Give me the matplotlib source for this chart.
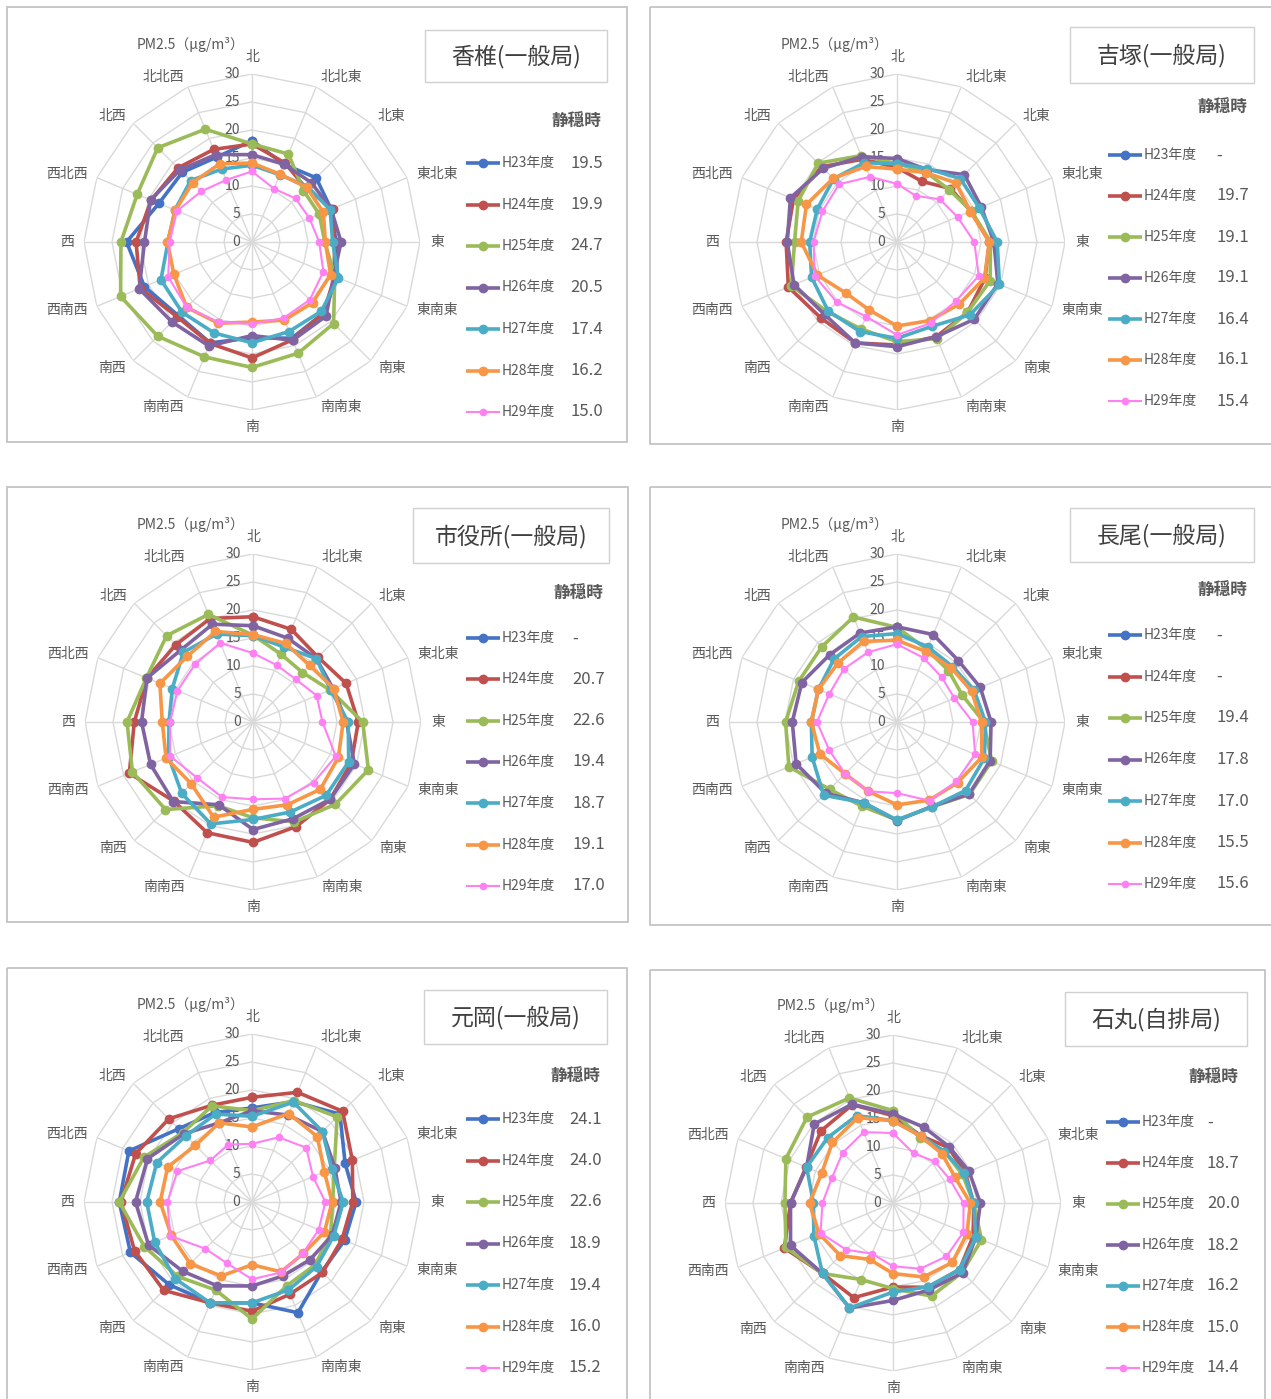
import matplotlib
matplotlib.use("Agg")
import matplotlib.pyplot as plt
import numpy as np
from matplotlib.patches import Rectangle
from matplotlib.transforms import offset_copy

plt.rcParams['font.family'] = ['Noto Sans CJK JP', 'DejaVu Sans']

# 16 wind directions, clockwise from north
directions = ['北', '北北東', '北東', '東北東', '東', '東南東', '南東', '南南東',
              '南', '南南西', '南西', '西南西', '西', '西北西', '北西', '北北西']
years = ['H23年度', 'H24年度', 'H25年度', 'H26年度', 'H27年度', 'H28年度', 'H29年度']
colors = ['#4472C4', '#C0504D', '#9BBB59', '#8064A2', '#4BACC6', '#F79646', '#FF80F2']
ticks = [0, 5, 10, 15, 20, 25, 30]

# PM2.5 by wind direction, one list per year (None = no data)
kashii = [
    [18.1, 15.0, 16.2, 15.3, 15.0, 16.5, 18.0, 18.6, 17.1, 19.5, 18.6, 20.8, 22.4, 18.0, 17.6, 16.4],
    [17.5, 15.3, 13.6, 15.6, 14.7, 16.0, 18.0, 18.9, 20.7, 19.6, 18.9, 21.6, 20.7, 19.5, 18.7, 17.9],
    [17.5, 17.0, 13.0, 13.0, 13.0, 16.0, 20.6, 21.5, 22.4, 22.2, 23.8, 25.4, 23.4, 22.2, 23.8, 21.8],
    [15.6, 15.0, 15.0, 15.3, 15.9, 15.8, 18.7, 19.0, 16.7, 20.1, 20.2, 21.8, 19.2, 19.6, 18.2, 16.9],
    [13.7, 13.0, 14.0, 15.1, 14.4, 16.7, 17.5, 17.3, 18.0, 17.6, 17.7, 17.6, 15.0, 14.9, 15.5, 14.1],
    [14.1, 13.1, 13.8, 13.8, 13.1, 15.2, 15.3, 15.1, 14.3, 15.7, 16.5, 15.1, 15.1, 14.8, 15.0, 15.1],
    [12.6, 10.3, 11.0, 11.1, 12.0, 13.8, 14.6, 14.7, 14.6, 15.5, 16.5, 16.2, 14.7, 14.5, 12.8, 12.0],
]
yoshizuka = [
    None,
    [13.3, 11.7, 13.5, 14.3, 16.5, 17.0, 17.8, 18.3, 18.4, 19.5, 19.2, 21.0, 19.8, 20.0, 19.0, 16.0],
    [14.0, 13.5, 13.2, 14.4, 16.7, 18.0, 17.8, 18.7, 17.8, 16.8, 17.6, 20.4, 18.3, 19.1, 19.9, 16.7],
    [14.9, 14.0, 17.0, 16.3, 17.3, 19.5, 19.5, 18.3, 18.7, 19.5, 18.3, 19.9, 19.6, 20.6, 18.6, 16.5],
    [14.0, 14.2, 16.0, 15.9, 17.9, 19.8, 18.4, 16.3, 17.2, 17.3, 17.4, 16.5, 15.6, 15.4, 16.0, 15.3],
    [13.0, 13.4, 14.9, 14.2, 16.5, 16.9, 15.7, 15.2, 15.0, 13.1, 12.9, 15.4, 17.1, 17.5, 16.1, 14.6],
    [10.4, 8.9, 10.8, 11.7, 13.8, 15.8, 14.9, 15.7, 16.6, 14.4, 15.2, 15.9, 14.9, 14.4, 14.6, 12.6],
]
shiyakusho = [
    None,
    [18.8, 17.9, 16.4, 18.0, 18.8, 19.0, 19.5, 20.2, 21.5, 21.4, 20.0, 23.9, 21.2, 20.5, 19.5, 20.0],
    [15.5, 13.1, 12.5, 14.9, 19.6, 22.3, 20.8, 19.3, 17.1, 16.2, 22.1, 23.3, 22.5, 20.6, 21.8, 20.8],
    [17.2, 16.2, 16.0, 15.5, 16.7, 19.6, 19.5, 18.7, 19.2, 16.0, 20.1, 19.8, 19.9, 20.5, 18.2, 18.9],
    [15.4, 14.5, 16.0, 15.0, 17.0, 18.5, 18.5, 17.4, 17.4, 19.7, 18.0, 16.3, 15.0, 15.6, 17.6, 17.0],
    [15.6, 15.2, 14.3, 15.6, 16.1, 16.5, 17.0, 16.0, 15.6, 18.4, 15.6, 16.8, 16.2, 18.0, 16.6, 17.5],
    [12.3, 11.0, 10.8, 12.3, 12.4, 16.0, 15.3, 14.8, 13.8, 14.5, 14.1, 16.0, 14.8, 14.6, 14.6, 15.3],
]
nagao = [
    None,
    None,
    [16.9, 14.0, 13.0, 12.6, 15.5, 18.3, 18.3, 16.4, 17.5, 16.3, 17.0, 20.9, 19.9, 19.0, 19.0, 20.3],
    [17.0, 16.9, 15.5, 16.1, 16.8, 18.0, 18.2, 16.3, 17.6, 15.6, 18.0, 19.5, 18.7, 18.4, 17.0, 17.2],
    [15.8, 14.5, 14.0, 14.9, 15.8, 16.9, 17.3, 16.4, 17.5, 15.6, 18.5, 16.4, 15.3, 15.2, 15.9, 16.5],
    [14.6, 13.6, 13.7, 14.4, 15.1, 16.4, 15.3, 15.1, 14.8, 13.4, 13.1, 14.9, 15.3, 15.2, 14.9, 15.6],
    [13.9, 12.4, 11.3, 11.1, 13.5, 15.1, 15.0, 15.2, 12.7, 13.4, 13.1, 13.1, 14.3, 13.1, 13.4, 13.5],
]
motooka = [
    [16.8, 19.4, 22.2, 18.0, 18.6, 17.9, 17.6, 21.4, 18.0, 19.5, 20.9, 23.5, 23.7, 23.8, 18.5, 17.3],
    [18.7, 21.2, 22.9, 19.4, 18.0, 17.4, 17.8, 17.8, 19.5, 19.5, 22.3, 22.7, 23.4, 22.5, 21.0, 18.7],
    [16.3, 19.6, 21.5, 15.9, 14.4, 15.2, 15.9, 16.2, 20.9, 17.0, 18.8, 20.8, 23.7, 20.9, 17.5, 18.6],
    [16.3, 16.8, 17.8, 16.0, 15.9, 15.5, 14.6, 14.3, 15.0, 16.2, 17.5, 20.0, 20.8, 20.2, 17.2, 15.3],
    [15.3, 19.3, 17.8, 15.4, 16.3, 15.8, 16.3, 17.0, 18.0, 19.5, 19.4, 18.8, 18.8, 18.4, 16.7, 17.0],
    [13.4, 17.1, 16.5, 14.0, 14.3, 14.0, 13.0, 13.5, 11.2, 14.3, 15.6, 15.6, 16.4, 16.3, 14.3, 15.3],
    [10.4, 12.5, 13.7, 11.8, 13.1, 12.9, 12.9, 13.6, 13.8, 11.8, 11.8, 15.8, 15.1, 14.4, 10.5, 11.1],
]
ishimaru = [
    None,
    [15.6, 13.0, 14.0, 14.0, 14.4, 15.5, 16.8, 16.3, 15.0, 18.3, 17.8, 21.0, 18.3, 16.8, 18.2, 19.0],
    [16.5, 12.6, 13.0, 13.4, 14.4, 17.1, 17.5, 18.0, 15.3, 14.8, 17.8, 20.7, 19.3, 20.7, 21.7, 20.3],
    [15.9, 14.6, 14.2, 14.7, 15.6, 16.0, 17.6, 16.8, 17.4, 20.3, 17.8, 19.8, 18.3, 16.7, 19.9, 19.1],
    [14.7, 13.0, 13.0, 13.8, 14.4, 16.0, 16.8, 16.2, 15.9, 20.3, 17.8, 15.3, 14.2, 16.7, 16.5, 16.9],
    [14.7, 12.9, 12.4, 12.0, 13.8, 14.3, 15.0, 14.3, 12.6, 10.9, 13.3, 14.3, 14.9, 13.8, 15.3, 16.5],
    [12.5, 9.6, 10.5, 11.0, 12.6, 13.6, 13.5, 12.7, 11.3, 9.8, 11.8, 14.0, 12.6, 11.8, 12.7, 13.7],
]

station_names = ['香椎(一般局)', '吉塚(一般局)', '市役所(一般局)',
                 '長尾(一般局)', '元岡(一般局)', '石丸(自排局)']
calm_kashii = ['19.5', '19.9', '24.7', '20.5', '17.4', '16.2', '15.0']
calm_yoshizuka = ['-', '19.7', '19.1', '19.1', '16.4', '16.1', '15.4']
calm_shiyakusho = ['-', '20.7', '22.6', '19.4', '18.7', '19.1', '17.0']
calm_nagao = ['-', '-', '19.4', '17.8', '17.0', '15.5', '15.6']
calm_motooka = ['24.1', '24.0', '22.6', '18.9', '19.4', '16.0', '15.2']
calm_ishimaru = ['-', '18.7', '20.0', '18.2', '16.2', '15.0', '14.4']

W, H = 1271, 1399
R = 168  # pixels for 30 ug/m3
grid_c = '#D9D9D9'
text_c = '#595959'

fig = plt.figure(figsize=(W / 100, H / 100), dpi=100)
bg = fig.add_axes([0, 0, 1, 1])
bg.set_xlim(0, W)
bg.set_ylim(H, 0)
bg.axis('off')

# layout per panel: frame, radar center, title box, calm-label y, first legend row, row step, legend x, value x
layout = [
    ((7, 7, 627, 442), (252, 242), (425, 30, 607, 82), 122, 163, 41.5, 466, 603),
    ((650, 7, 1290, 444), (897, 242), (1070, 27, 1254, 83), 108, 155, 41.0, 1108, 1249),
    ((7, 487, 628, 922), (253, 722), (413, 508, 609, 563), 594, 638, 41.3, 466, 605),
    ((650, 487, 1290, 925), (897, 722), (1070, 508, 1254, 562), 591, 635, 41.5, 1108, 1249),
    ((7, 968, 627, 1420), (252, 1202), (424, 990, 607, 1044), 1077, 1119, 41.5, 466, 602),
    ((650, 970, 1265, 1420), (893, 1203), (1065, 992, 1247, 1046), 1078, 1122, 41.0, 1106, 1240),
]
all_data = [kashii, yoshizuka, shiyakusho, nagao, motooka, ishimaru]
all_calm = [calm_kashii, calm_yoshizuka, calm_shiyakusho, calm_nagao, calm_motooka, calm_ishimaru]

theta = np.arange(16) * 2 * np.pi / 16
theta_c = np.append(theta, theta[0])

for p in range(6):
    frame, (cx, cy), box, calm_y, row0, step, lx, vx = layout[p]
    bg.add_patch(Rectangle((frame[0], frame[1]), frame[2] - frame[0], frame[3] - frame[1],
                           fill=False, ec='#BFBFBF', lw=1.2))
    bg.add_patch(Rectangle((box[0], box[1]), box[2] - box[0], box[3] - box[1],
                           fill=False, ec='#D0D0D0', lw=1.0))
    bg.text((box[0] + box[2]) / 2, (box[1] + box[3]) / 2 + 1, station_names[p],
            ha='center', va='center', fontsize=16.5, color='#404040')
    bg.text(vx - 2, calm_y, '静穏時', ha='right', va='center', fontsize=12,
            fontweight='bold', color=text_c)
    for i in range(7):
        y = row0 + i * step
        lw = 1.5 if i == 6 else 2.6
        ms = 4.5 if i == 6 else 6
        bg.plot([lx, lx + 34], [y, y], color=colors[i], lw=lw, solid_capstyle='butt')
        bg.plot([lx + 17], [y], 'o', color=colors[i], ms=ms)
        bg.text(lx + 36, y, years[i], ha='left', va='center', fontsize=10, color=text_c)
        bg.text(vx - 33, y, all_calm[p][i], ha='left', va='center', fontsize=12, color=text_c)

    ax = fig.add_axes([(cx - R) / W, (H - cy - R) / H, 2 * R / W, 2 * R / H], projection='polar')
    ax.set_theta_zero_location('N')
    ax.set_theta_direction(-1)
    ax.set_ylim(0, 30)
    ax.axis('off')
    for r in ticks[1:]:
        ax.plot(theta_c, [r] * 17, color=grid_c, lw=1.0, zorder=1)
    for t in theta:
        ax.plot([t, t], [0, 30], color=grid_c, lw=1.0, zorder=1)

    tick_tr = offset_copy(ax.transData, fig=fig, x=-12, y=0, units='dots')
    for r in ticks:
        ax.text(0, r, str(r), transform=tick_tr, ha='right', va='center',
                fontsize=10, color=text_c)
    lab_tr = offset_copy(ax.transData, fig=fig, x=-8, y=0, units='dots')
    ax.text(0, 35.2, 'PM2.5（μg/m³）', transform=lab_tr, ha='right', va='center',
            fontsize=10, color=text_c)

    for t, name in zip(theta, directions):
        s = np.sin(t)
        if s > 0.3:
            ax.text(t, 31.8, name, ha='left', va='center', fontsize=10, color=text_c)
        elif s < -0.3:
            ax.text(t, 31.8, name, ha='right', va='center', fontsize=10, color=text_c)
        else:
            ax.text(t, 33.0, name, ha='center', va='center', fontsize=10, color=text_c)

    for i, vals in enumerate(all_data[p]):
        if vals is None:
            continue
        v = np.append(vals, vals[0])
        lw = 1.5 if i == 6 else 2.6
        ms = 4.5 if i == 6 else 6
        ax.plot(theta_c, v, '-o', color=colors[i], lw=lw, ms=ms, zorder=3 + i)

fig.savefig('out.png', dpi=100)
